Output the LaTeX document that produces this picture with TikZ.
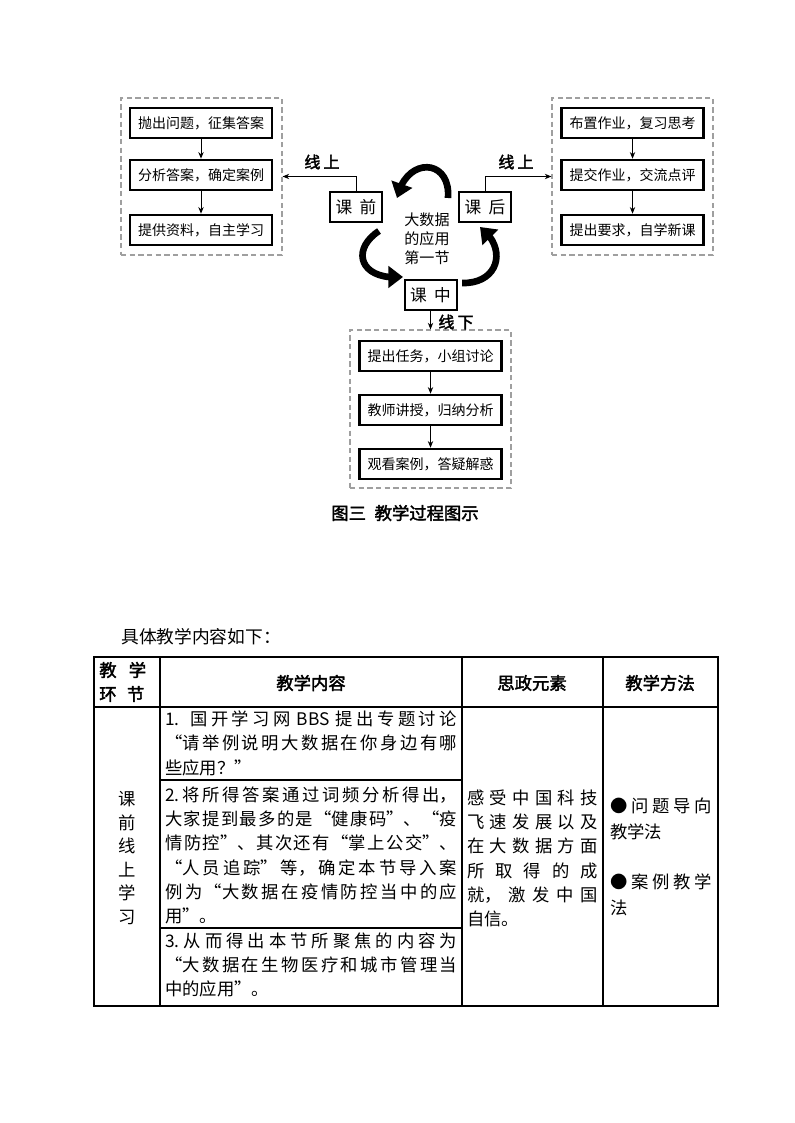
\documentclass[tikz,border=0pt]{standalone}
\usepackage{fontspec}
\setmainfont{Noto Sans CJK SC}
\newfontfamily\cjkb[FakeBold=2.2]{Noto Sans CJK SC}
\usetikzlibrary{arrows.meta,bending,positioning}
\XeTeXlinebreaklocale "zh"
\XeTeXlinebreakskip=0pt plus 3pt
\tolerance=9999
\hbadness=10000
\begin{document}
\begin{tikzpicture}[x=0.75pt,y=-0.75pt,
  stepbox/.style={draw, line width=1.9pt, minimum width=106.5pt, minimum height=22.5pt, inner sep=0pt, font=\fontsize{10.5}{12}\selectfont},
  phase/.style={draw, line width=1.5pt, minimum width=39pt, minimum height=22.5pt, inner sep=0pt, font=\fontsize{12.5}{14}\selectfont},
  group/.style={draw=gray!75, dash pattern=on 4pt off 2.5pt, line width=0.8pt, minimum width=120.75pt, minimum height=117.75pt, inner sep=0pt},
  flow/.style={-{Stealth[length=5pt,width=4pt]}, line width=0.7pt},
  cyc/.style={line width=5pt, -{Triangle[length=11pt,width=16pt]}},
  lab/.style={font=\cjkb\fontsize{12}{14}\selectfont, inner sep=0pt},
  cell/.style={anchor=north west, inner sep=0pt, align=justify, font=\fontsize{13}{18.2}\selectfont},
  head/.style={font=\cjkb\fontsize{13}{15}\selectfont, inner sep=0pt},
  tline/.style={line width=0.8pt}
]
\useasboundingbox (0,0) rectangle (794,1123);
\fill[white] (0,0) rectangle (794,1123);

% group boxes
\node[group] (lg) at (201.5,176.5) {};
\node[group] (rg) at (632.5,176.5) {};
\node[group, minimum height=118.5pt] (bg) at (430.5,409) {};

% left steps
\node[stepbox] (l1) at (201,123) {抛出问题，征集答案};
\node[stepbox] (l2) at (201,175) {分析答案，确定案例};
\node[stepbox] (l3) at (201,230) {提供资料，自主学习};
\draw[flow] (l1) -- (l2);
\draw[flow] (l2) -- (l3);

% right steps
\node[stepbox] (r1) at (632.5,123) {布置作业，复习思考};
\node[stepbox] (r2) at (632.5,175) {提交作业，交流点评};
\node[stepbox] (r3) at (632.5,230) {提出要求，自学新课};
\draw[flow] (r1) -- (r2);
\draw[flow] (r2) -- (r3);

% bottom steps
\node[stepbox] (b1) at (430.5,356) {提出任务，小组讨论};
\node[stepbox] (b2) at (430.5,410) {教师讲授，归纳分析};
\node[stepbox] (b3) at (430.5,464) {观看案例，答疑解惑};
\draw[flow] (b1) -- (b2);
\draw[flow] (b2) -- (b3);

% phases
\node[phase] (pre) at (356,207) {课\hspace{0.45em}前};
\node[phase] (post) at (485,207) {课\hspace{0.45em}后};
\node[phase] (mid) at (430.5,295) {课\hspace{0.45em}中};
\node[align=center, inner sep=0pt, font=\fontsize{11.3}{14.25}\selectfont] (core) at (427,239) {大数据\\的应用\\第一节};

\draw[flow] (pre.north) |- (lg.east);
\draw[flow] (post.north) |- (rg.west);
\draw[flow] (mid.south) -- (bg.north);

\node[lab] (on1) at (322,162) {线\hspace{0.2em}上};
\node[lab] (on2) at (516,162) {线\hspace{0.2em}上};
\node[lab] (off) at (456,322) {线\hspace{0.2em}下};

% cycle arrows
\coordinate (c1s) at (448,198);
\coordinate (c1e) at (397,198);
\coordinate (c2s) at (379,231);
\coordinate (c2e) at (403,277);
\coordinate (c3s) at (462,283);
\coordinate (c3e) at (480,227);
\draw[cyc] (c1s) .. controls (451,158) and (406,156) .. (c1e);
\draw[cyc] (c2s) .. controls (350,250) and (360,281) .. (c2e);
\draw[cyc] (c3s) .. controls (499,284) and (508,248) .. (c3e);

% caption
\node[font=\cjkb\fontsize{13}{15}\selectfont, inner sep=0pt] (cap) at (405,513) {图三\hspace{0.5em}教学过程图示};

% intro line
\node[anchor=west, inner sep=0pt, font=\fontsize{13.3}{16}\selectfont] (intro) at (121,637) {具体教学内容如下：};

% table
\draw[line width=1.1pt] (94,657) rectangle (718,1006);
\draw[tline] (160,657) -- (160,1006);
\draw[tline] (462,657) -- (462,1006);
\draw[tline] (603,657) -- (603,1006);
\draw[tline] (94,707) -- (718,707);
\draw[tline] (160,780) -- (462,780);
\draw[tline] (160,928) -- (462,928);

\node[head, anchor=west] (h1a) at (99,670) {教\hspace{0.7em}学};
\node[head, anchor=west] (h1b) at (99,694) {环\hspace{0.6em}节};
\node[head] (h2) at (311,683) {教学内容};
\node[head] (h3) at (532,683) {思政元素};
\node[head] (h4) at (660,683) {教学方法};

\node[align=center, inner sep=0pt, font=\fontsize{13}{17.7}\selectfont] (stage) at (127,858) {课\\前\\线\\上\\学\\习};

\node[cell, text width=219pt] (t1) at (165,710.5) {1. 国开学习网 BBS 提出专题讨论\linebreak “请举例说明大数据在你身边有哪\linebreak 些应用？”};
\node[cell, text width=219pt] (t2) at (165,786.5) {2.将所得答案通过词频分析得出，\linebreak 大家提到最多的是“健康码”、“疫\linebreak 情防控”、其次还有“掌上公交”、\linebreak “人员追踪”等，确定本节导入案\linebreak 例为“大数据在疫情防控当中的应\linebreak 用”。};
\node[cell, text width=219pt] (t3) at (165,932.5) {3.从而得出本节所聚焦的内容为\linebreak “大数据在生物医疗和城市管理当\linebreak 中的应用”。};

\node[cell, text width=98pt] (sz) at (467,789.5) {感受中国科技\linebreak 飞速发展以及\linebreak 在大数据方面\linebreak 所取得的成\linebreak 就，激发中国\linebreak 自信。};

\node[cell, text width=76.5pt, font=\fontsize{13}{19.5}\selectfont] (m1) at (610,797.5) {●问题导向\linebreak 教学法};
\node[cell, text width=76.5pt, font=\fontsize{13}{19.5}\selectfont] (m2) at (610,873.5) {●案例教学\linebreak 法};
\end{tikzpicture}
\end{document}
